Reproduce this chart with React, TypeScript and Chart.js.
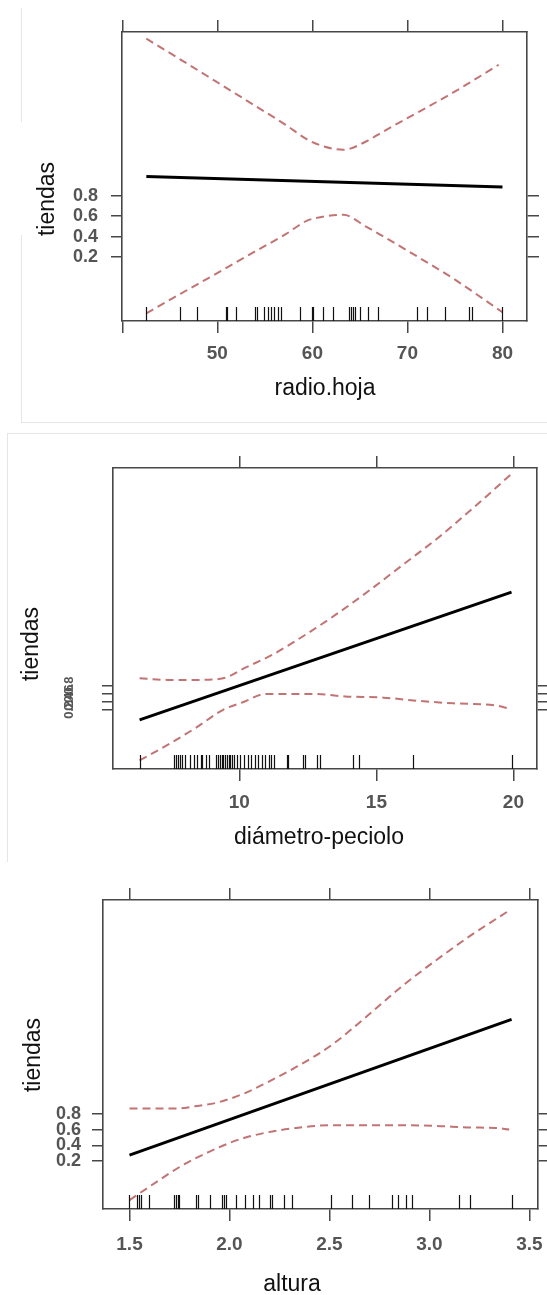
import React, { useEffect, useRef } from 'react';
import { Chart, registerables } from 'chart.js';

Chart.register(...registerables);

const TICK_FONT = "'Liberation Sans Narrow', 'Liberation Sans', Arial, sans-serif";
const TITLE_FONT = "'Liberation Sans', Arial, sans-serif";

// ---------- Panel 1: radio.hoja ----------
const xTicks1 = [40, 50, 60, 70, 80];
const yTicks1 = [0.2, 0.4, 0.6, 0.8];
const xRange1 = [39.97, 82.58];
const yRange1 = [-0.43, 2.41];
const fitX1 = [42.53, 80.0];
const fitY1 = [0.99, 0.888];
const upX1 = [42.53, 46.17, 49.85, 53.52, 57.19, 59.4, 61.23, 63.26, 65.64, 67.48, 71.15, 74.83, 79.6];
const upY1 = [2.344, 2.137, 1.924, 1.711, 1.498, 1.357, 1.285, 1.252, 1.334, 1.433, 1.623, 1.816, 2.088];
const loX1 = [42.53, 46.17, 49.85, 53.52, 57.19, 59.4, 61.23, 63.26, 65.64, 67.48, 71.15, 74.83, 80.0];
const loY1 = [-0.354, -0.16, 0.033, 0.23, 0.423, 0.554, 0.597, 0.613, 0.498, 0.4, 0.197, -0.013, -0.344];
const rug1 = [42.46, 46.07, 47.89, 50.91, 51.05, 51.96, 54.0, 54.14, 54.95, 55.3, 55.65, 56.0, 56.35, 56.7, 58.7, 59.96, 60.11, 61.16, 62.14, 63.89, 64.07, 64.25, 64.49, 65.02, 65.89, 66.95, 71.05, 72.04, 73.96, 76.53, 76.77, 80.0];

// ---------- Panel 2: diámetro-peciolo ----------
const xTicks2 = [10, 15, 20];
const yTicks2 = [0.2, 0.4, 0.6, 0.8];
const xRange2 = [5.39, 20.86];
const yRange2 = [-1.264, 6.18];
const fitX2 = [6.36, 19.93];
const fitY2 = [-0.05, 3.11];
const upX2 = [6.36, 7.38, 8.52, 9.41, 10.18, 11.2, 12.21, 13.49, 14.76, 16.03, 17.3, 18.58, 19.94];
const upY2 = [0.98, 0.94, 0.94, 0.98, 1.23, 1.56, 1.97, 2.54, 3.16, 3.82, 4.48, 5.22, 6.04];
const loX2 = [6.36, 7.38, 8.4, 9.41, 10.18, 10.94, 12.72, 13.87, 15.27, 16.54, 17.81, 19.34, 19.85];
const loY2 = [-1.05, -0.67, -0.25, 0.2, 0.4, 0.59, 0.59, 0.53, 0.5, 0.42, 0.36, 0.31, 0.23];
const rug2 = [6.36, 7.63, 7.7, 7.76, 7.82, 7.89, 8.02, 8.21, 8.33, 8.46, 8.59, 8.65, 8.78, 8.88, 9.16, 9.22, 9.29, 9.35, 9.41, 9.48, 9.54, 9.61, 9.67, 9.73, 9.8, 9.92, 10.03, 10.18, 10.31, 10.43, 10.56, 10.69, 10.81, 10.94, 11.09, 11.17, 11.26, 11.73, 11.78, 12.32, 12.4, 12.85, 12.95, 14.15, 14.38, 16.35, 19.94];

// ---------- Panel 3: altura ----------
const xTicks3 = [1.5, 2.0, 2.5, 3.0, 3.5];
const yTicks3 = [0.2, 0.4, 0.6, 0.8];
const xRange3 = [1.3675, 3.543];
const yRange3 = [-0.42, 3.557];
const fitX3 = [1.5, 3.411];
const fitY3 = [0.273, 2.02];
const upX3 = [1.5, 1.636, 1.741, 1.828, 1.933, 2.072, 2.177, 2.334, 2.509, 2.683, 2.858, 3.032, 3.207, 3.399];
const upY3 = [0.873, 0.873, 0.873, 0.903, 0.946, 1.066, 1.194, 1.408, 1.687, 2.051, 2.437, 2.779, 3.101, 3.422];
const loX3 = [1.5, 1.636, 1.758, 1.898, 2.038, 2.177, 2.334, 2.509, 2.77, 3.032, 3.207, 3.329, 3.399];
const loY3 = [-0.305, -0.07, 0.132, 0.316, 0.466, 0.56, 0.624, 0.659, 0.659, 0.65, 0.629, 0.624, 0.603];
const rug3 = [1.5, 1.54, 1.548, 1.557, 1.6, 1.723, 1.733, 1.742, 1.75, 1.833, 1.845, 1.903, 1.962, 1.973, 1.983, 2.033, 2.078, 2.12, 2.15, 2.203, 2.215, 2.275, 2.312, 2.508, 2.612, 2.7, 2.815, 2.845, 2.882, 2.915, 3.15, 3.203, 3.415];

const yTitle = 'tiendas';
const xTitles = ['radio.hoja', 'diámetro-peciolo', 'altura'];

// ---------- layout (pixels) ----------
const W = 547;
const PANELS = [
  {
    top: 0, height: 420, area: { left: 122, right: 527, top: 32, bottom: 321 },
    xT: { cx: 325, base: 395 }, yT: { bx: 54, cy: 199 },
    xFont: 19, yFont: 18, yPad: 13, xPad: 9, rotY: null,
  },
  {
    top: 420, height: 440, area: { left: 113, right: 537, top: 48, bottom: 349 },
    xT: { cx: 319, base: 424 }, yT: { bx: 38, cy: 224 },
    xFont: 19, yFont: 13, yPad: 10, xPad: 10, rotY: { cx: 69 },
  },
  {
    top: 860, height: 435, area: { left: 103, right: 538, top: 40, bottom: 349 },
    xT: { cx: 292, base: 431 }, yT: { bx: 40, cy: 195 },
    xFont: 19, yFont: 18, yPad: 11, xPad: 12, rotY: null,
  },
];

const AXIS = '#474747';
const LABEL = '#555555';
const BAND = '#c27373';

const zip = (xs: number[], ys: number[]) => xs.map((x, i) => ({ x, y: ys[i] }));

const extras = {
  id: 'panelExtras',
  afterDatasetsDraw(chart: any, _a: any, opts: any) {
    const { ctx, chartArea } = chart;
    const xs = chart.scales.x;
    ctx.save();
    ctx.strokeStyle = '#111';
    ctx.lineWidth = 1.2;
    ctx.beginPath();
    for (const v of opts.rug) {
      const px = Math.round(xs.getPixelForValue(v)) + 0.5;
      ctx.moveTo(px, chartArea.bottom);
      ctx.lineTo(px, chartArea.bottom - 14);
    }
    ctx.stroke();
    ctx.restore();
  },
  afterDraw(chart: any, _a: any, opts: any) {
    const { ctx } = chart;
    ctx.save();
    ctx.fillStyle = '#111';
    ctx.font = `23px ${TITLE_FONT}`;
    ctx.textAlign = 'center';
    ctx.textBaseline = 'alphabetic';
    ctx.fillText(opts.xText, opts.xT.cx, opts.xT.base);
    ctx.save();
    ctx.translate(opts.yT.bx, opts.yT.cy);
    ctx.rotate(-Math.PI / 2);
    ctx.fillText(opts.yText, 0, 0);
    ctx.restore();
    if (opts.rotY) {
      const ys = chart.scales.y;
      ctx.fillStyle = LABEL;
      ctx.font = `bold ${opts.yFont}px ${TICK_FONT}`;
      ctx.textBaseline = 'middle';
      for (const t of ys.ticks) {
        const py = ys.getPixelForValue(t.value);
        ctx.save();
        ctx.translate(opts.rotY.cx, py);
        ctx.rotate(-Math.PI / 2);
        ctx.fillText(Number(t.value).toFixed(1), 0, 0);
        ctx.restore();
      }
    }
    ctx.restore();
  },
};

function makeConfig(idx: number): any {
  const P = PANELS[idx];
  const sets = [
    { xT: xTicks1, yT: yTicks1, xR: xRange1, yR: yRange1, fit: zip(fitX1, fitY1), up: zip(upX1, upY1), lo: zip(loX1, loY1), rug: rug1, fmt: (v: number) => (v === 40 ? '' : String(v)) },
    { xT: xTicks2, yT: yTicks2, xR: xRange2, yR: yRange2, fit: zip(fitX2, fitY2), up: zip(upX2, upY2), lo: zip(loX2, loY2), rug: rug2, fmt: (v: number) => String(v) },
    { xT: xTicks3, yT: yTicks3, xR: xRange3, yR: yRange3, fit: zip(fitX3, fitY3), up: zip(upX3, upY3), lo: zip(loX3, loY3), rug: rug3, fmt: (v: number) => v.toFixed(1) },
  ][idx];
  const a = P.area;
  const setTicks = (arr: number[]) => (scale: any) => {
    scale.ticks = arr.map((value) => ({ value }));
  };
  const fitW = (w: number) => (scale: any) => {
    scale.width = w;
    scale.paddingTop = 0; scale.paddingBottom = 0; scale.paddingLeft = 0; scale.paddingRight = 0;
  };
  const fitH = (h: number) => (scale: any) => {
    scale.height = h;
    scale.paddingTop = 0; scale.paddingBottom = 0; scale.paddingLeft = 0; scale.paddingRight = 0;
  };
  const grid = (len: number) => ({
    display: true, drawOnChartArea: false, drawTicks: true, tickLength: len,
    color: AXIS, tickColor: AXIS, tickWidth: 1.5, lineWidth: 1.5,
  });
  const border = { display: true, color: AXIS, width: 1.6 };
  const line = (data: any, color: string, width: number, dash: number[], smooth: boolean) => ({
    type: 'line', data, borderColor: color, borderWidth: width, borderDash: dash,
    pointRadius: 0, fill: false, tension: smooth ? 0.4 : 0,
    cubicInterpolationMode: smooth ? 'monotone' : 'default',
    xAxisID: 'x', yAxisID: 'y',
  });
  return {
    type: 'line',
    data: {
      datasets: [
        line(sets.up, BAND, 2, [8, 5], true),
        line(sets.lo, BAND, 2, [8, 5], true),
        line(sets.fit, '#000', 3, [], false),
      ],
    },
    options: {
      responsive: false,
      animation: false,
      devicePixelRatio: 1,
      layout: { padding: 0 },
      plugins: {
        legend: { display: false },
        tooltip: { enabled: false },
        panelExtras: {
          rug: sets.rug, xText: xTitles[idx], yText: yTitle,
          xT: P.xT, yT: P.yT, rotY: P.rotY, yFont: P.yFont,
        },
      },
      scales: {
        x: {
          type: 'linear', position: 'bottom', min: sets.xR[0], max: sets.xR[1],
          afterBuildTicks: setTicks(sets.xT), afterFit: fitH(P.height - a.bottom),
          grid: grid(12), border,
          ticks: {
            display: true, autoSkip: false, maxRotation: 0, minRotation: 0, padding: P.xPad,
            color: LABEL, font: { family: TICK_FONT, size: P.xFont, weight: 'bold' },
            callback: (v: any) => sets.fmt(Number(v)),
          },
        },
        xTop: {
          type: 'linear', position: 'top', min: sets.xR[0], max: sets.xR[1],
          afterBuildTicks: setTicks(sets.xT), afterFit: fitH(a.top),
          grid: grid(12), border, ticks: { display: false },
        },
        y: {
          type: 'linear', position: 'left', min: sets.yR[0], max: sets.yR[1],
          afterBuildTicks: setTicks(sets.yT), afterFit: fitW(a.left),
          grid: grid(11), border,
          ticks: {
            display: !P.rotY, autoSkip: false, padding: P.yPad,
            color: LABEL, font: { family: TICK_FONT, size: P.yFont, weight: 'bold' },
            callback: (v: any) => Number(v).toFixed(1),
          },
        },
        yRight: {
          type: 'linear', position: 'right', min: sets.yR[0], max: sets.yR[1],
          afterBuildTicks: setTicks(sets.yT), afterFit: fitW(W - a.right),
          grid: grid(12), border, ticks: { display: false },
        },
      },
    },
    plugins: [extras],
  };
}

function Panel({ idx }: { idx: number }) {
  const ref = useRef<HTMLCanvasElement | null>(null);
  const P = PANELS[idx];
  useEffect(() => {
    if (!ref.current) return;
    const chart = new Chart(ref.current, makeConfig(idx));
    return () => chart.destroy();
  }, [idx]);
  return (
    <canvas
      ref={ref}
      width={W}
      height={P.height}
      style={{ position: 'absolute', left: 0, top: P.top, width: W, height: P.height }}
    />
  );
}

const line = (style: React.CSSProperties) => (
  <div style={{ position: 'absolute', background: '#e6e6e6', ...style }} />
);

export default function App() {
  return (
    <div style={{ position: 'absolute', left: 0, top: 0, width: W, height: 1295, background: '#fff', overflow: 'hidden' }}>
      <Panel idx={0} />
      <Panel idx={1} />
      <Panel idx={2} />
      {line({ left: 21, top: 8, width: 1, height: 114 })}
      {line({ left: 21, top: 235, width: 1, height: 187 })}
      {line({ left: 21, top: 422, width: W - 21, height: 1 })}
      {line({ left: 7, top: 433, width: W - 7, height: 1 })}
      {line({ left: 7, top: 433, width: 1, height: 429 })}
    </div>
  );
}
